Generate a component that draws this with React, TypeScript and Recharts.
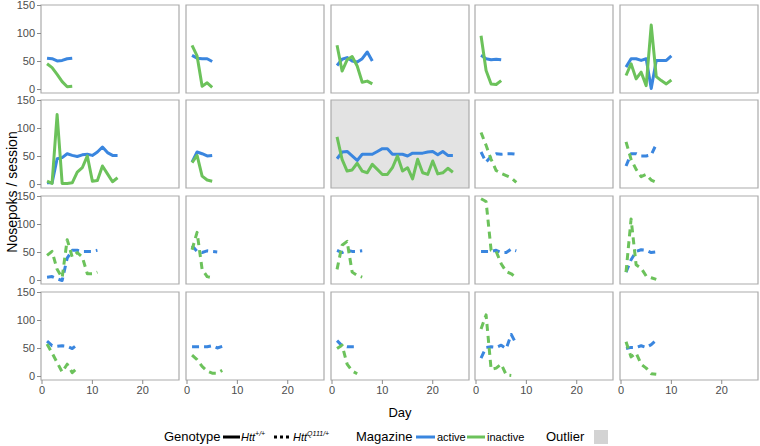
import React from 'react';
import { LineChart, Line, XAxis, YAxis, ReferenceArea } from 'recharts';

const BLUE = '#3a86df';
const GREEN = '#6cc25b';
const BORDER = '#ababab';
const FONT = '"Liberation Sans", Arial, sans-serif';

const xTicks = [0, 10, 20];
const yTicks = [0, 50, 100, 150];
const X_DOMAIN: [number, number] = [-0.2, 27.2];
const Y_DOMAIN: [number, number] = [-6.2, 150.9];

// Row 1
const active_1_1 = [56, 55, 51, 52, 55, 56];
const inactive_1_1 = [46, 39, 27, 14, 5, 6];
const active_1_2 = [61, 56, 55, 55, 50];
const inactive_1_2 = [79, 60, 6, 12, 4];
const active_1_3 = [43, 54, 57, 51, 49, 55, 67, 51];
const inactive_1_3 = [79, 33, 53, 59, 42, 13, 15, 10];
const active_1_4 = [61, 55, 53, 54, 53];
const inactive_1_4 = [96, 34, 10, 9, 16];
const active_1_5 = [40, 55, 55, 52, 55, 2, 52, 52, 52, 60];
const inactive_1_5 = [25, 46, 19, 31, 7, 115, 23, 16, 10, 17];
// Row 2
const active_2_1 = [3, 3, 46, 48, 55, 52, 50, 53, 54, 52, 58, 67, 57, 52, 52];
const inactive_2_1 = [6, 2, 125, 2, 2, 3, 22, 30, 51, 6, 7, 33, 19, 5, 12];
const active_2_2 = [40, 58, 55, 51, 52];
const inactive_2_2 = [39, 52, 15, 8, 6];
const active_2_3 = [46, 58, 59, 51, 43, 54, 54, 54, 59, 64, 64, 54, 54, 54, 51, 56, 56, 56, 58, 59, 53, 59, 52, 52];
const inactive_2_3 = [85, 45, 24, 26, 38, 24, 21, 36, 27, 18, 18, 30, 51, 24, 30, 10, 45, 21, 18, 42, 19, 21, 29, 22];
const active_2_4 = [58, 40, 50, 55, 54, 55, 55, 54];
const inactive_2_4 = [93, 70, 45, 25, 20, 16, 12, 4];
const active_2_5 = [33, 55, 55, 51, 51, 53, 72];
const inactive_2_5 = [76, 45, 27, 14, 18, 8, 4];
// Row 3
const active_3_1 = [6, 7, 3, 0, 40, 54, 54, 52, 52, 52, 54];
const inactive_3_1 = [45, 52, 20, 5, 73, 42, 50, 42, 12, 12, 15];
const active_3_2 = [62, 52, 50, 53, 52, 51];
const inactive_3_2 = [55, 86, 20, 7, 5];
const active_3_3 = [54, 50, 54, 52, 52, 53];
const inactive_3_3 = [20, 63, 70, 15, 9, 6];
const active_3_4 = [52, 52, 52, 54, 50, 50, 56, 53];
const inactive_3_4 = [146, 141, 54, 52, 30, 16, 12, 5];
const active_3_5 = [15, 37, 52, 55, 54, 50, 51];
const inactive_3_5 = [15, 110, 28, 22, 8, 5, 2];
// Row 4
const active_4_1 = [63, 55, 54, 55, 54, 50, 57];
const inactive_4_1 = [58, 42, 25, 8, 22, 7, 15];
const active_4_2 = [53, 53, 53, 53, 55, 51, 54];
const inactive_4_2 = [38, 30, 18, 10, 6, 6, 11];
const active_4_3 = [64, 55, 53, 53, 53];
const inactive_4_3 = [50, 56, 22, 10, 5];
const active_4_4 = [33, 52, 53, 52, 56, 50, 75, 58];
const inactive_4_4 = [85, 110, 13, 15, 22, 3, 2];
const active_4_5 = [50, 52, 52, 55, 52, 57, 65];
const inactive_4_5 = [62, 35, 42, 22, 15, 5, 4];

// Genotype per panel: 'wt' = Htt+/+, 'q111' = HttQ111/+
const genotype = [
  ['wt', 'wt', 'wt', 'wt', 'wt'],
  ['wt', 'wt', 'wt', 'q111', 'q111'],
  ['q111', 'q111', 'q111', 'q111', 'q111'],
  ['q111', 'q111', 'q111', 'q111', 'q111'],
];
const outlier = [
  [false, false, false, false, false],
  [false, false, true, false, false],
  [false, false, false, false, false],
  [false, false, false, false, false],
];

const activeGrid = [
  [active_1_1, active_1_2, active_1_3, active_1_4, active_1_5],
  [active_2_1, active_2_2, active_2_3, active_2_4, active_2_5],
  [active_3_1, active_3_2, active_3_3, active_3_4, active_3_5],
  [active_4_1, active_4_2, active_4_3, active_4_4, active_4_5],
];
const inactiveGrid = [
  [inactive_1_1, inactive_1_2, inactive_1_3, inactive_1_4, inactive_1_5],
  [inactive_2_1, inactive_2_2, inactive_2_3, inactive_2_4, inactive_2_5],
  [inactive_3_1, inactive_3_2, inactive_3_3, inactive_3_4, inactive_3_5],
  [inactive_4_1, inactive_4_2, inactive_4_3, inactive_4_4, inactive_4_5],
];

const COL_LEFT = [41, 185.8, 330.6, 475.4, 620.2];
const ROW_TOP = [4.6, 100.4, 196.2, 292];
const PANEL_W = 138;
const PANEL_H = 88;
const Y_AXIS_W = 41;
const X_AXIS_H = 24;
const PAD = 8;
const PADX = 6;

function toRows(a: number[], b: number[]) {
  const n = Math.max(a.length, b.length);
  return Array.from({ length: n }, (_, k) => ({
    day: k + 1,
    active: k < a.length ? a[k] : null,
    inactive: k < b.length ? b[k] : null,
  }));
}

const tickStyle = { fill: '#4d4d4d', stroke: 'none', fontSize: 11, fontFamily: FONT };

function Panel({ r, c }: { r: number; c: number }) {
  const first = c === 0;
  const bottom = r === 3;
  const dashed = genotype[r][c] === 'q111' ? '7 5' : undefined;
  const padTop = PAD;
  const padBottom = bottom ? 0 : PAD;
  const padLeft = first ? 0 : PADX;
  const padRight = c === 4 ? 1 : PADX;
  const w = PANEL_W + padLeft + padRight + (first ? Y_AXIS_W : 0);
  const h = PANEL_H + padTop + padBottom + (bottom ? X_AXIS_H : 0);
  const left = first ? COL_LEFT[0] - Y_AXIS_W : COL_LEFT[c] - padLeft;
  const data = toRows(activeGrid[r][c], inactiveGrid[r][c]);
  return (
    <div style={{ position: 'absolute', left, top: ROW_TOP[r] - padTop, width: w, height: h }}>
      <LineChart
        width={w}
        height={h}
        data={data}
        margin={{ top: padTop, right: padRight, bottom: padBottom, left: padLeft }}
      >
        <XAxis
          type="number"
          dataKey="day"
          domain={X_DOMAIN}
          ticks={xTicks}
          interval={0}
          hide={!bottom}
          height={X_AXIS_H}
          tickSize={4}
          tickMargin={2}
          axisLine={false}
          tickLine={{ stroke: '#8a8a8a' }}
          tick={tickStyle}
          allowDataOverflow
        />
        <YAxis
          type="number"
          domain={Y_DOMAIN}
          ticks={yTicks}
          interval={0}
          hide={!first}
          width={Y_AXIS_W}
          tickSize={4}
          tickMargin={2}
          axisLine={false}
          tickLine={{ stroke: '#8a8a8a' }}
          tick={tickStyle}
          allowDataOverflow
        />
        <ReferenceArea
          x1={X_DOMAIN[0]}
          x2={X_DOMAIN[1]}
          y1={Y_DOMAIN[0]}
          y2={Y_DOMAIN[1]}
          fill={outlier[r][c] ? '#e3e3e3' : '#ffffff'}
          fillOpacity={1}
          stroke={BORDER}
          strokeWidth={1.2}
          ifOverflow="visible"
        />
        <Line
          type="linear"
          dataKey="active"
          stroke={BLUE}
          strokeWidth={3}
          strokeDasharray={dashed}
          strokeLinejoin="round"
          dot={false}
          activeDot={false}
          isAnimationActive={false}
        />
        <Line
          type="linear"
          dataKey="inactive"
          stroke={GREEN}
          strokeWidth={3}
          strokeDasharray={dashed}
          strokeLinejoin="round"
          dot={false}
          activeDot={false}
          isAnimationActive={false}
        />
      </LineChart>
    </div>
  );
}

const legendText: React.CSSProperties = {
  position: 'absolute',
  fontFamily: FONT,
  fontSize: 13,
  color: '#000',
  lineHeight: '16px',
  height: 16,
  whiteSpace: 'nowrap',
};

const supStyle: React.CSSProperties = {
  position: 'relative',
  top: -5,
  fontSize: 7,
  lineHeight: '7px',
};

function Legend() {
  const cy = 437;
  const smallText: React.CSSProperties = { ...legendText, fontSize: 11 };
  return (
    <>
      <div style={{ ...legendText, left: 164, top: cy - 8 }}>Genotype</div>
      <svg style={{ position: 'absolute', left: 223, top: cy - 3 }} width={17} height={6}>
        <line x1={0} y1={3} x2={17} y2={3} stroke="#000" strokeWidth={3} />
      </svg>
      <div style={{ ...smallText, left: 241, top: cy - 8, fontStyle: 'italic' }}>
        Htt<span style={supStyle}>+/+</span>
      </div>
      <svg style={{ position: 'absolute', left: 274, top: cy - 3 }} width={18} height={6}>
        <line x1={0} y1={3} x2={18} y2={3} stroke="#000" strokeWidth={3} strokeDasharray="3 3" />
      </svg>
      <div style={{ ...smallText, left: 293, top: cy - 8, fontStyle: 'italic' }}>
        Htt<span style={supStyle}>Q111/+</span>
      </div>
      <div style={{ ...legendText, left: 356, top: cy - 8 }}>Magazine</div>
      <svg style={{ position: 'absolute', left: 416, top: cy - 3 }} width={19} height={6}>
        <line x1={0} y1={3} x2={19} y2={3} stroke={BLUE} strokeWidth={3} />
      </svg>
      <div style={{ ...smallText, left: 437, top: cy - 8 }}>active</div>
      <svg style={{ position: 'absolute', left: 467, top: cy - 3 }} width={18} height={6}>
        <line x1={0} y1={3} x2={18} y2={3} stroke={GREEN} strokeWidth={3} />
      </svg>
      <div style={{ ...smallText, left: 487, top: cy - 8 }}>inactive</div>
      <div style={{ ...legendText, left: 546, top: cy - 8 }}>Outlier</div>
      <div style={{ position: 'absolute', left: 594, top: cy - 7, width: 14, height: 14, background: '#d3d3d3' }} />
    </>
  );
}

export default function App() {
  const cells: React.ReactNode[] = [];
  for (let r = 0; r < 4; r++) {
    for (let c = 0; c < 5; c++) {
      cells.push(<Panel key={`${r}-${c}`} r={r} c={c} />);
    }
  }
  return (
    <div style={{ position: 'absolute', left: 0, top: 0, width: 760, height: 446, background: '#fff', overflow: 'hidden' }}>
      {cells}
      <div
        style={{
          position: 'absolute',
          left: 12,
          top: 192,
          transform: 'translate(-50%, -50%) rotate(-90deg)',
          fontFamily: FONT,
          fontSize: 14,
          whiteSpace: 'nowrap',
          color: '#000',
        }}
      >
        Nosepoks / session
      </div>
      <div
        style={{
          position: 'absolute',
          left: 400,
          top: 405,
          transform: 'translateX(-50%)',
          fontFamily: FONT,
          fontSize: 13,
          color: '#000',
        }}
      >
        Day
      </div>
      <Legend />
    </div>
  );
}
